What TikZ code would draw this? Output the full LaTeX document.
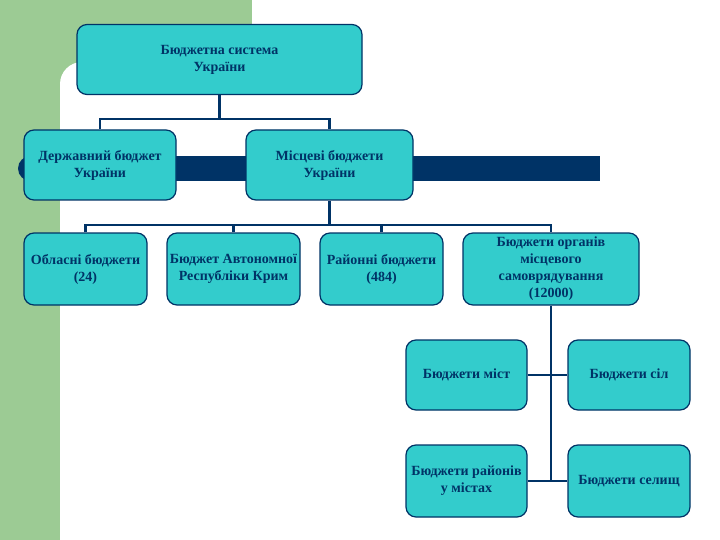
\documentclass[tikz,border=0pt]{standalone}
\usepackage{fontspec}
\setmainfont{Liberation Serif}
\usepackage{tikz}
\usetikzlibrary{positioning}
\usepackage{xcolor}
\definecolor{bgreen}{RGB}{156,203,148}
\definecolor{bnavy}{RGB}{0,51,102}
\definecolor{bteal}{RGB}{51,204,204}
\tikzstyle{link} = [line width=2.4pt,color=bnavy]

\begin{document}
\begin{tikzpicture}[x=1pt, y=-1pt,
    budget/.style={rectangle, rounded corners=10pt, draw=bnavy, line width=1.2pt, fill=bteal, text=bnavy, align=center, inner sep=1pt, minimum height=70pt, font=\bfseries\fontsize{14}{17}\selectfont}]

\useasboundingbox (0,0) rectangle (720,540);
\clip (0,0) rectangle (720,540);

% Background
\fill[bgreen] (0,0) rectangle (252,540);
\fill[white, rounded corners=22pt] (60,62) rectangle (760,600);
\fill[white] (252,0) rectangle (720,62);
\fill[bnavy] (30.5,156) rectangle (600,181);
\fill[bnavy] (30.5,168.5) circle (12.5);

% Top level
\node[budget, minimum width=285pt] (system) at (219.5,59.5) {Бюджетна система\\України};

% Second level
\node[budget, minimum width=152pt] (state) at (100,165) {Державний бюджет\\України};
\node[budget, minimum width=167pt] (local) at (329.5,165) {Місцеві бюджети\\України};

% Local budgets
\node[budget, minimum width=123pt, minimum height=72pt] (oblast) at (85.5,269) {Обласні бюджети\\(24)};
\node[budget, minimum width=133pt, minimum height=72pt] (crimea) at (233.5,269) {Бюджет Автономної\\Республіки Крим};
\node[budget, minimum width=123pt, minimum height=72pt] (rayon) at (381.5,269) {Районні бюджети\\(484)};
\node[budget, minimum width=176pt, minimum height=72pt] (selfgov) at (551,269) {Бюджети органів\\місцевого\\самоврядування\\(12000)};

% Self-government budgets
\node[budget, minimum width=121pt] (city) at (466.5,375) {Бюджети міст};
\node[budget, minimum width=122pt] (village) at (629,375) {Бюджети сіл};
\node[budget, minimum width=121pt, minimum height=72pt] (district) at (466.5,481) {Бюджети районів\\у містах};
\node[budget, minimum width=122pt, minimum height=72pt] (town) at (629,481) {Бюджети селищ};

% Connectors
\coordinate (bus1) at (219.5,119);
\coordinate (bus2) at (329.5,225);
\draw[link] (system) -- (bus1);
\draw[link] (state.north) |- (bus1) -| (local.north);
\draw[link] (local) -- (bus2);
\draw[link] (oblast.north) |- (bus2) -| (selfgov.north);
\draw[link] (crimea.north) -- (crimea.north |- bus2);
\draw[link] (rayon.north) -- (rayon.north |- bus2);
\draw[link] (selfgov.south) -- (selfgov.south |- town.west);
\draw[link] (city) -- (village);
\draw[link] (district) -- (town);

\end{tikzpicture}
\end{document}
